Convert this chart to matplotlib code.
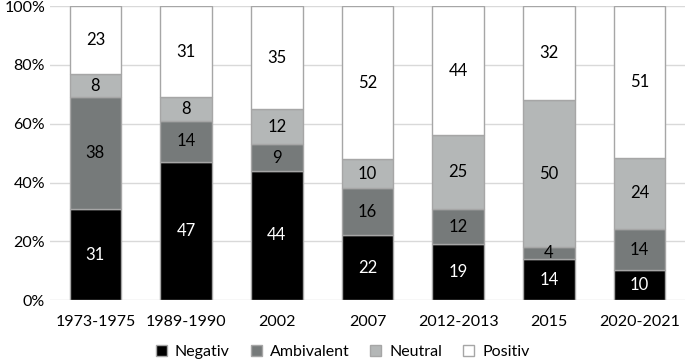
import matplotlib
matplotlib.use("Agg")
import matplotlib.pyplot as plt
import numpy as np

plt.rcParams['font.family'] = ['Lato', 'DejaVu Sans']

years = ['1973-1975', '1989-1990', '2002', '2007', '2012-2013', '2015', '2020-2021']
negativ = [31, 47, 44, 22, 19, 14, 10]
ambivalent = [38, 14, 9, 16, 12, 4, 14]
neutral = [8, 8, 12, 10, 25, 50, 24]
positiv = [23, 31, 35, 52, 44, 32, 51]

series = [('Negativ', negativ, '#000000', 'white'),
          ('Ambivalent', ambivalent, '#767a7a', 'black'),
          ('Neutral', neutral, '#b4b7b7', 'black'),
          ('Positiv', positiv, '#ffffff', 'black')]

fig = plt.figure(figsize=(6.85, 3.62), dpi=100)
ax = fig.add_axes([0.073, 0.171, 0.927, 0.812])

x = np.arange(len(years))
totals = np.sum([s[1] for s in series], axis=0)
bottom = np.zeros(len(years))
for name, vals, color, tcol in series:
    h = np.array(vals) / totals * 100
    ax.bar(x, h, 0.57, bottom=bottom, color=color, edgecolor='#a6a6a6',
           linewidth=1, label=name, zorder=2)
    for xi, b, hi, v in zip(x, bottom, h, vals):
        ax.text(xi, b + hi / 2, str(v), ha='center', va='center',
                fontsize=12, color=tcol, zorder=3)
    bottom += h

ax.set_xlim(-0.5, len(years) - 0.5)
ax.set_ylim(0, 100)
ax.set_yticks(range(0, 101, 20))
ax.set_yticklabels([f'{v}%' for v in range(0, 101, 20)])
ax.set_xticks(x)
ax.set_xticklabels(years)
ax.tick_params(axis='both', length=0, labelsize=11.5)
ax.tick_params(axis='x', pad=11)
ax.grid(axis='y', color='#d9d9d9', linewidth=1, zorder=0)
for s in ax.spines.values():
    s.set_visible(False)

ax.legend(loc='center', bbox_to_anchor=(0.461, -0.177), ncol=4, frameon=False,
          fontsize=11.5, handlelength=0.7, handleheight=0.7, handletextpad=0.5,
          columnspacing=1.3, borderpad=0)

fig.savefig('out.png', dpi=100)
